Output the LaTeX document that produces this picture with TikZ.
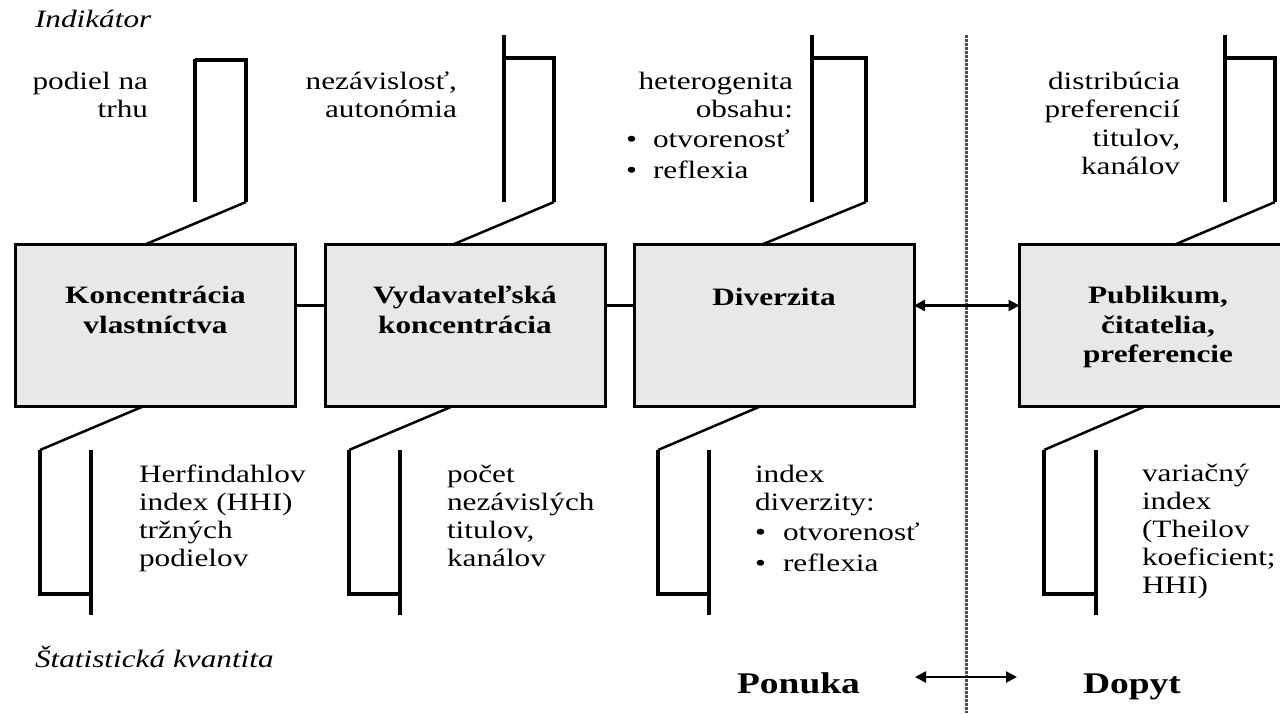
\documentclass[tikz,border=0pt]{standalone}
\usepackage{fontspec}
\setmainfont{Liberation Serif}[FakeStretch=1.25]
\usetikzlibrary{arrows.meta}
\definecolor{boxgray}{HTML}{E8E8E8}
\begin{document}
\begin{tikzpicture}[x=1pt,y=-1pt,
  txt/.style={font=\fontsize{25}{28}\selectfont, inner sep=0pt, outer sep=0pt},
  ttl/.style={font=\fontsize{25}{28}\selectfont\bfseries, inner sep=0pt, outer sep=0pt},
  big/.style={font=\fontsize{30}{34}\selectfont\bfseries, inner sep=0pt, outer sep=0pt},
  lbl/.style={font=\fontsize{25}{28}\selectfont\itshape, inner sep=0pt, outer sep=0pt},
  bx/.style={draw=black, line width=3pt, fill=boxgray, minimum width=280pt, minimum height=162pt, inner sep=0pt, outer sep=0pt},
  brk/.style={draw=black, line width=3.5pt},
  lnk/.style={draw=black, line width=2.5pt},
  tips/.style={{Triangle[length=11pt,width=11pt]}-{Triangle[length=11pt,width=11pt]}},
  sepline/.style={draw=black!70, line width=3pt, dash pattern=on 2.5pt off 1.5pt}]
\useasboundingbox (0,0) rectangle (1280,713);

% separator
\draw[sepline] (966,35) -- (966,713);

% boxes
\node[bx] (b1) at (155.5,325.5) {};
\node[bx] (b2) at (465,325.5) {};
\node[bx] (b3) at (774,325.5) {};
\node[bx] (b4) at (1159.5,325.5) {};

% box texts
\node[ttl, anchor=base] (b1t1) at (155.5,303) {Koncentrácia};
\node[ttl, anchor=base] (b1t2) at (155.5,333) {vlastníctva};
\node[ttl, anchor=base] (b2t1) at (465,303) {Vydavateľská};
\node[ttl, anchor=base] (b2t2) at (465,333) {koncentrácia};
\node[ttl, anchor=base] (b3t1) at (774,305) {Diverzita};
\node[ttl, anchor=base] (b4t1) at (1158,303) {Publikum,};
\node[ttl, anchor=base] (b4t2) at (1158,333) {čitatelia,};
\node[ttl, anchor=base] (b4t3) at (1158,362) {preferencie};

% connectors between boxes
\draw[lnk] ([yshift=20pt]b1.east) -- ([yshift=20pt]b2.west);
\draw[lnk] ([yshift=20pt]b2.east) -- ([yshift=20pt]b3.west);
\draw[lnk, tips] ([yshift=20pt]b3.east) -- ([yshift=20pt]b4.west);

% top brackets (indicators)
\draw[brk] (195,59) -- (195,202);
\draw[brk] (195,60) -- (246,60) -- (246,202);
\coordinate (u1) at (246,202);
\draw[lnk] (u1) -- (b1.north -| 145,0);

\draw[brk] (504,35) -- (504,202);
\draw[brk] (504,58) -- (554,58) -- (554,202);
\coordinate (u2) at (554,202);
\draw[lnk] (u2) -- (b2.north -| 453,0);

\draw[brk] (812,35) -- (812,202);
\draw[brk] (812,58) -- (866,58) -- (866,202);
\coordinate (u3) at (866,202);
\draw[lnk] (u3) -- (b3.north -| 762,0);

\draw[brk] (1225,35) -- (1225,202);
\draw[brk] (1225,58) -- (1275,58) -- (1275,202);
\coordinate (u4) at (1275,202);
\draw[lnk] (u4) -- (b4.north -| 1175,0);

% bottom brackets (quantities)
\coordinate (d1) at (40,450);
\draw[lnk] (b1.south -| 143,0) -- (d1);
\draw[brk] (d1) -- (40,594) -- (91,594);
\draw[brk] (91,450) -- (91,615);

\coordinate (d2) at (349,450);
\draw[lnk] (b2.south -| 452,0) -- (d2);
\draw[brk] (d2) -- (349,594) -- (400,594);
\draw[brk] (400,450) -- (400,615);

\coordinate (d3) at (658,450);
\draw[lnk] (b3.south -| 760,0) -- (d3);
\draw[brk] (d3) -- (658,594) -- (709,594);
\draw[brk] (709,450) -- (709,615);

\coordinate (d4) at (1044,450);
\draw[lnk] (b4.south -| 1145,0) -- (d4);
\draw[brk] (d4) -- (1044,594) -- (1096,594);
\draw[brk] (1096,450) -- (1096,615);

% labels
\node[lbl, anchor=base west] (ind) at (35,27) {Indikátor};
\node[lbl, anchor=base west] (stat) at (35,667) {Štatistická kvantita};

% top texts
\foreach \t [count=\i from 0] in {podiel na, trhu}
  \node[txt, anchor=base east] (ia-\i) at (148,89+28*\i) {\t};
\foreach \t [count=\i from 0] in {{nezávislosť,}, autonómia}
  \node[txt, anchor=base east] (ib-\i) at (457,89+28*\i) {\t};
\foreach \t [count=\i from 0] in {heterogenita, obsahu:}
  \node[txt, anchor=base east] (ic-\i) at (793,89+28*\i) {\t};
\node[txt, anchor=base west] (icb1) at (626,147) {•};
\node[txt, anchor=base west] (ict1) at (653,147) {otvorenosť};
\node[txt, anchor=base west] (icb2) at (626,178) {•};
\node[txt, anchor=base west] (ict2) at (653,178) {reflexia};
\foreach \t [count=\i from 0] in {distribúcia, preferencií, {titulov,}, kanálov}
  \node[txt, anchor=base east] (id-\i) at (1180,89+28.5*\i) {\t};

% bottom texts
\foreach \t [count=\i from 0] in {Herfindahlov, {index (HHI)}, tržných, podielov}
  \node[txt, anchor=base west] (qa-\i) at (139,482+28*\i) {\t};
\foreach \t [count=\i from 0] in {počet, nezávislých, {titulov,}, kanálov}
  \node[txt, anchor=base west] (qb-\i) at (447,482+28*\i) {\t};
\foreach \t [count=\i from 0] in {index, diverzity:}
  \node[txt, anchor=base west] (qc-\i) at (755,482+28*\i) {\t};
\node[txt, anchor=base west] (qcb1) at (755,540) {•};
\node[txt, anchor=base west] (qct1) at (783,540) {otvorenosť};
\node[txt, anchor=base west] (qcb2) at (755,571) {•};
\node[txt, anchor=base west] (qct2) at (783,571) {reflexia};
\node[txt, anchor=base west] (qd-0) at (1142,481) {variačný};
\node[txt, anchor=base west] (qd-1) at (1142,509) {index};
\node[txt, anchor=base west] (qd-2) at (1142,537) {(Theilov};
\node[txt, anchor=base west] (qd-3) at (1142,565) {koeficient;};
\node[txt, anchor=base west] (qd-4) at (1142,593) {HHI)};

% supply / demand
\node[big, anchor=base west] (pon) at (737,693) {Ponuka};
\node[big, anchor=base west] (dop) at (1083,693) {Dopyt};
\coordinate (pa) at (915,677);
\coordinate (da) at (1017,677);
\draw[lnk, tips] (pa) -- (da);
\end{tikzpicture}
\end{document}
